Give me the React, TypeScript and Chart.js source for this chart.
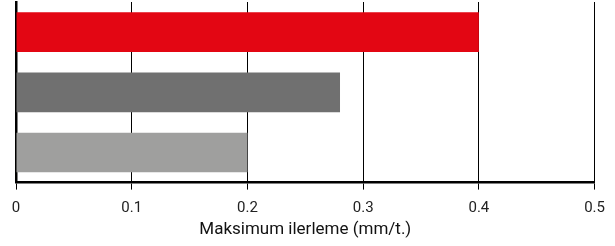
import React, { useEffect, useRef } from "react";
import { Chart, registerables } from "chart.js";

Chart.register(...registerables);

const categories = ["A", "B", "C"];
const values = [0.4, 0.28, 0.2];
const barColors = ["#E30613", "#707070", "#9F9F9E"];
const xTicks = [0, 0.1, 0.2, 0.3, 0.4, 0.5];
const axisTitle = "Maksimum ilerleme (mm/t.)";

export default function App() {
  const ref = useRef<HTMLCanvasElement | null>(null);
  useEffect(() => {
    document.body.style.margin = "0";
    const ctx = ref.current!;
    const chart = new Chart(ctx, {
      type: "bar",
      data: {
        labels: categories,
        datasets: [
          {
            data: values,
            backgroundColor: barColors,
            borderWidth: 0,
            barPercentage: 0.66,
            categoryPercentage: 1,
          },
        ],
      },
      options: {
        indexAxis: "y",
        animation: false,
        responsive: false,
        maintainAspectRatio: false,
        layout: { padding: { left: 16, right: 18, top: 2, bottom: 6 } },
        plugins: { legend: { display: false }, tooltip: { enabled: false } },
        scales: {
          y: {
            ticks: { display: false },
            grid: { display: false, drawTicks: false },
            border: { display: true, color: "#000", width: 2.5 },
            afterFit: (s: any) => {
              s.width = 0;
            },
          },
          x: {
            min: 0,
            max: 0.5,
            afterBuildTicks: (s: any) => {
              s.ticks = xTicks.map((v) => ({ value: v }));
            },
            ticks: {
              color: "#222",
              font: { family: "Roboto", size: 15 },
              padding: 10,
              callback: (v: any) => String(Math.round(Number(v) * 10) / 10),
            },
            grid: { color: "#000", lineWidth: 1, tickLength: 7, drawOnChartArea: true },
            border: { display: true, color: "#000", width: 2.5 },
            title: {
              display: true,
              text: axisTitle,
              color: "#111",
              font: { family: "Roboto", size: 17 },
              padding: { top: -8, bottom: 0 },
            },
          },
        },
      },
    });
    return () => chart.destroy();
  }, []);
  return (
    <div style={{ width: 615, height: 246 }}>
      <canvas ref={ref} width={615} height={246} />
    </div>
  );
}
